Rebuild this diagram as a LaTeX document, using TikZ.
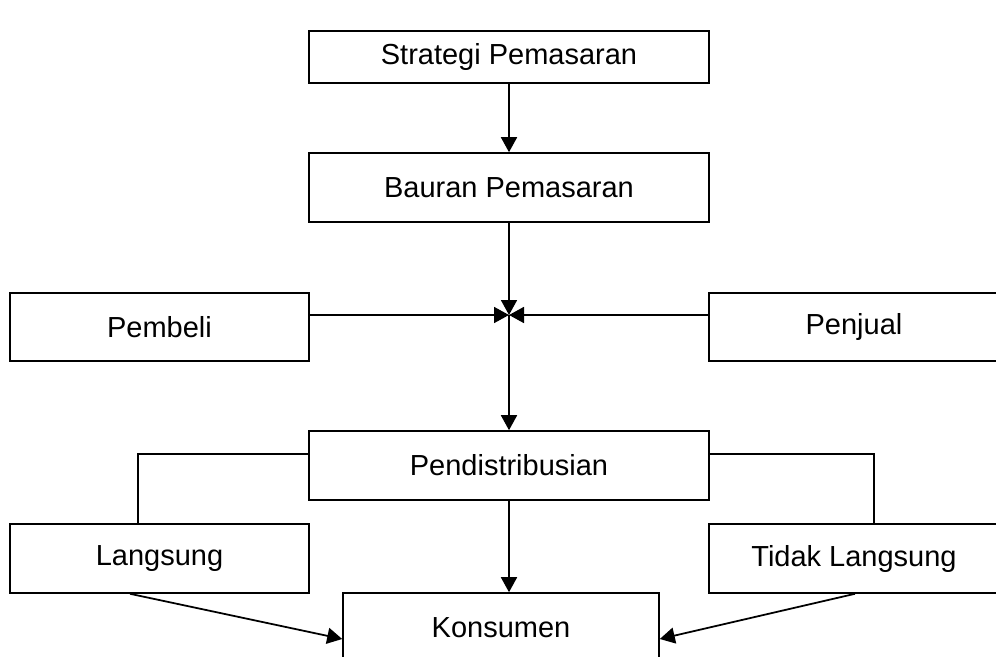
\documentclass[tikz,border=0pt]{standalone}
\usepackage{fontspec}
\setmainfont{Liberation Sans}
\usetikzlibrary{arrows.meta}

\begin{document}
\begin{tikzpicture}[
    kotak/.style={draw,line width=0.9pt,inner sep=0pt,font=\fontsize{16.5}{19}\selectfont},
    panah/.style={-{Triangle[length=0.3cm,width=0.32cm]},line width=1pt}
  ]
                \clip (0,0) rectangle (19.92,-13.14);
                \node[kotak,minimum width=8cm,minimum height=1.04cm] (strat) at (10.18,-1.14) {Strategi Pemasaran};
                \node[kotak,minimum width=8cm,minimum height=1.38cm] (bauran) at (10.18,-3.75) {Bauran Pemasaran};
                \node[kotak,minimum width=5.98cm,minimum height=1.36cm] (pembeli) at (3.19,-6.54) {Pembeli};
                \node[kotak,minimum width=5.8cm,minimum height=1.36cm] (penjual) at (17.08,-6.54) {Penjual};
                \node[kotak,minimum width=8cm,minimum height=1.38cm] (distrib) at (10.18,-9.31) {Pendistribusian};
                \node[kotak,minimum width=5.98cm,minimum height=1.38cm] (langsung) at (3.19,-11.17) {Langsung};
                \node[kotak,minimum width=5.8cm,minimum height=1.38cm] (tidak) at (17.08,-11.17) {Tidak Langsung};
                \node[kotak,minimum width=6.32cm,minimum height=1.38cm] (konsumen) at (10.02,-12.55) {Konsumen};
                \coordinate (temu) at (10.18,-6.30);
                \coordinate (kiri) at (2.76,-9.08);
                \coordinate (kanan) at (17.48,-9.08);
                \draw[panah] (strat) -- (bauran);
                \draw[panah] (bauran) -- (temu);
                \draw[panah] (pembeli.east |- temu) -- (temu);
                \draw[panah] (penjual.west |- temu) -- (temu);
                \draw[panah] (temu) -- (distrib);
                \draw[panah] (distrib) -- (distrib |- konsumen.north);
                \draw[line width=1pt] (distrib.west |- kiri) -- (kiri) -- (kiri |- langsung.north);
                \draw[line width=1pt] (distrib.east |- kanan) -- (kanan) -- (kanan |- tidak.north);
                \draw[panah] ([xshift=-0.59cm]langsung.south) -- ([yshift=-0.23cm]konsumen.west);
                \draw[panah] ([xshift=0.02cm]tidak.south) -- ([yshift=-0.23cm]konsumen.east);
            \end{tikzpicture}
\end{document}
